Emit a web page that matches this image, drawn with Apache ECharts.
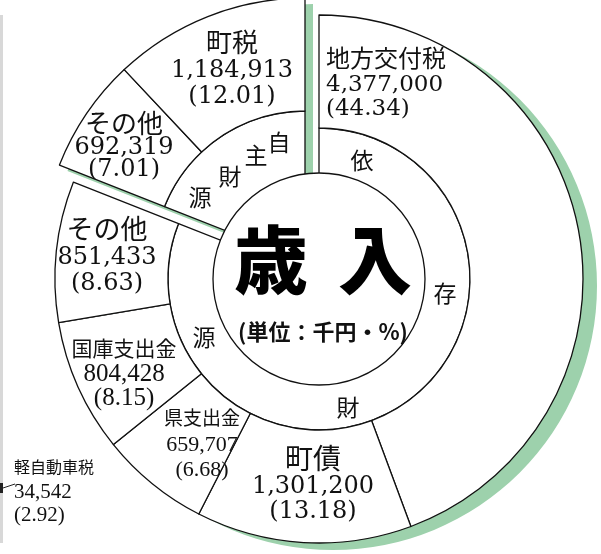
<!DOCTYPE html>
<html>
<head>
<meta charset="utf-8">
<script src="https://cdn.jsdelivr.net/npm/echarts@6/dist/echarts.min.js"></script>
<style>
  html, body { margin: 0; padding: 0; background: #fff; }
  #chart { width: 601px; height: 554px; }
</style>
</head>
<body>
<div id="chart"></div>
<script>
// 歳入 (単位:千円・%)
const itemNames = ['地方交付税', '町債', '県支出金', '国庫支出金', 'その他', 'その他', '町税'];
const itemAmounts = [4377000, 1301200, 659707, 804428, 851433, 692319, 1184913];
const itemShares = [44.34, 13.18, 6.68, 8.15, 8.63, 7.01, 12.01];
const itemGroups = ['依存財源', '依存財源', '依存財源', '依存財源', '依存財源', '自主財源', '自主財源'];
const groupNames = ['依存財源', '自主財源'];

const noteName = '軽自動車税';
const noteAmount = 34542;
const noteShare = 2.92;

// layout
const C_DEP = [319, 279];
const C_OWN = [305, 262];
const R_OUT = 264, R_MID = 151, R_IN = 106;
const SHADOW = '#9dd1ac';
const SERIF = '"DejaVu Serif", "Noto Sans CJK JP", serif';
const NARROW = '"Liberation Serif", "Noto Sans CJK JP", serif';

const labelSpots = [[326, 85], [313, 487], [202, 445], [124, 374], [107, 258], [124, 148], [232, 71]];
const labelFonts = [
  { name: 24, num: 23, lh: 24, fam: SERIF, align: 'left' },
  { name: 28, num: 24, lh: 25, fam: SERIF },
  { name: 19, num: 22, lh: 25, fam: NARROW },
  { name: 21, num: 25, lh: 24, fam: NARROW },
  { name: 27, num: 24, lh: 26, fam: SERIF },
  { name: 26, num: 24, lh: 21.5, fam: SERIF },
  { name: 26, num: 24, lh: 26, fam: SERIF }
];
const ringChars = {
  '依存財源': [[362, 160], [445, 293], [348, 407], [204, 337]],
  '自主財源': [[279, 142], [256, 155], [230, 176], [200, 197]]
};

const fmt = v => v.toLocaleString('en-US');

const rich = {};
labelFonts.forEach((f, i) => {
  rich['n' + i] = { fontSize: f.name, lineHeight: f.lh, fontFamily: f.fam, color: '#111', align: f.align || 'center' };
  rich['v' + i] = { fontSize: f.num, lineHeight: f.lh, fontFamily: f.fam, color: '#111', align: f.align || 'center' };
});

const hidden = v => ({
  name: '', value: v,
  itemStyle: { color: 'transparent', borderWidth: 0 },
  label: { show: false }
});

function outerRing(group) {
  return itemNames.map((n, i) => itemGroups[i] === group
    ? { name: n, value: itemAmounts[i] }
    : hidden(itemAmounts[i]));
}

function groupTotals() {
  return groupNames.map(g => itemAmounts.reduce((s, v, i) => s + (itemGroups[i] === g ? v : 0), 0));
}

function middleRing(group) {
  const totals = groupTotals();
  return groupNames.map((g, k) => g === group ? { name: g, value: totals[k] } : hidden(totals[k]));
}

function shadowRing(group) {
  const totals = groupTotals();
  return groupNames.map((g, k) => g === group
    ? { name: g, value: totals[k], itemStyle: { color: SHADOW, borderWidth: 0 } }
    : hidden(totals[k]));
}

const baseStyle = { color: '#fff', borderColor: '#111', borderWidth: 1.3 };
const common = {
  type: 'pie', startAngle: 90, clockwise: true, silent: true,
  avoidLabelOverlap: false, emphasis: { disabled: true }, labelLine: { show: false }
};

const itemLabel = {
  show: true,
  position: 'inside',
  formatter: p => {
    const i = p.dataIndex;
    return `{n${i}|${itemNames[i]}}\n{v${i}|${fmt(itemAmounts[i])}}\n{v${i}|(${itemShares[i].toFixed(2)})}`;
  },
  rich: rich
};
const itemLayout = p => {
  const s = labelSpots[p.dataIndex];
  const f = labelFonts[p.dataIndex];
  return { x: s[0], y: s[1], align: f.align || 'center', verticalAlign: 'middle' };
};

const chart = echarts.init(document.getElementById('chart'), null, { renderer: 'canvas' });

const graphics = [
  { type: 'rect', shape: { x: 0, y: 15, width: 3, height: 528 }, style: { fill: '#d8d8d8' } },
  { type: 'rect', shape: { x: 0, y: 483, width: 3, height: 10 }, style: { fill: '#222' } },
  { type: 'line', shape: { x1: 3, y1: 488, x2: 15, y2: 484 }, style: { stroke: '#222', lineWidth: 1 } },
  {
    type: 'text', x: 14, y: 492,
    style: {
      text: `{a|${noteName}}\n{b|${fmt(noteAmount)}}\n{b|(${noteShare.toFixed(2)})}`,
      rich: {
        a: { fontSize: 16, lineHeight: 23, fontFamily: NARROW, fill: '#111' },
        b: { fontSize: 21, lineHeight: 23, fontFamily: NARROW, fill: '#111' }
      },
      verticalAlign: 'middle', align: 'left'
    }
  }
];
Object.keys(ringChars).forEach(g => {
  ringChars[g].forEach((pt, k) => {
    graphics.push({
      type: 'text', x: pt[0], y: pt[1], z: 10,
      style: {
        text: g[k], fontSize: 23, fontFamily: '"Noto Sans CJK JP"', fill: '#111',
        align: 'center', verticalAlign: 'middle'
      }
    });
  });
});

chart.setOption({
  animation: false,
  backgroundColor: '#fff',
  graphic: graphics,
  series: [
    Object.assign({}, common, {
      name: 'shadowDep', center: [C_DEP[0] + 14, C_DEP[1] + 7], radius: [0, R_OUT], z: 1,
      label: { show: false }, data: shadowRing('依存財源')
    }),
    Object.assign({}, common, {
      name: 'shadowOwn', center: [C_OWN[0] + 8, C_OWN[1] + 6], radius: [0, R_OUT], z: 1,
      label: { show: false }, data: shadowRing('自主財源')
    }),
    Object.assign({}, common, {
      name: 'depMid', center: C_DEP, radius: [0, R_MID], z: 2,
      itemStyle: baseStyle, label: { show: false }, data: middleRing('依存財源')
    }),
    Object.assign({}, common, {
      name: 'depOut', center: C_DEP, radius: [R_MID, R_OUT], z: 2,
      itemStyle: baseStyle, label: itemLabel, labelLayout: itemLayout, data: outerRing('依存財源')
    }),
    Object.assign({}, common, {
      name: 'ownMid', center: C_OWN, radius: [0, R_MID], z: 2,
      itemStyle: baseStyle, label: { show: false }, data: middleRing('自主財源')
    }),
    Object.assign({}, common, {
      name: 'ownOut', center: C_OWN, radius: [R_MID, R_OUT], z: 2,
      itemStyle: baseStyle, label: itemLabel, labelLayout: itemLayout, data: outerRing('自主財源')
    }),
    Object.assign({}, common, {
      name: 'core', center: C_DEP, radius: [0, R_IN], z: 3,
      itemStyle: baseStyle,
      label: {
        show: true, position: 'center', padding: [0, 0, 0, 8],
        formatter: '{t|歳}{sp| }{t|入}\n{u|(単位：千円・%)}',
        rich: {
          t: { fontSize: 74, fontWeight: 900, lineHeight: 106, fontFamily: '"Noto Sans CJK JP"', color: '#000' },
          sp: { fontSize: 20, width: 30, lineHeight: 106 },
          u: { fontSize: 22, fontWeight: 'bold', lineHeight: 38, fontFamily: '"Noto Sans CJK JP"', color: '#111' }
        }
      },
      data: [{ name: '歳入', value: 1 }]
    })
  ]
});
</script>
</body>
</html>
